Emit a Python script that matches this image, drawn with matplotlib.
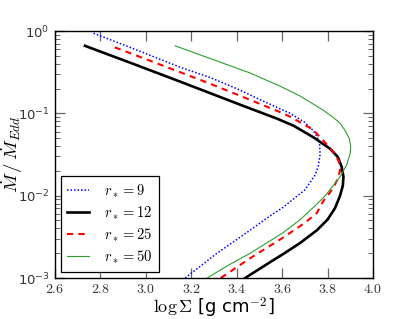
import matplotlib
matplotlib.use("Agg")
import matplotlib.pyplot as plt
from matplotlib.ticker import FuncFormatter, LogLocator, FixedLocator
import numpy as np

plt.rcParams['mathtext.fontset'] = 'cm'
plt.rcParams['font.family'] = ['DejaVu Sans']

# r* = 9
sig_9 = [3.173, 3.313, 3.459, 3.534, 3.605, 3.65, 3.70, 3.723, 3.745, 3.759, 3.767,
         3.765, 3.753, 3.737, 3.70, 3.635, 3.591, 3.50, 3.40, 3.283, 3.151, 2.95, 2.763]
mdot_9 = [10**v for v in [-3.0, -2.70, -2.42, -2.27, -2.14, -2.04, -1.93, -1.84, -1.75, -1.64, -1.50,
                          -1.38, -1.28, -1.21, -1.11, -1.00, -0.945, -0.83, -0.70, -0.565, -0.44, -0.22, -0.02]]
# r* = 12
sig_12 = [3.437, 3.50, 3.56, 3.604, 3.679, 3.753, 3.80, 3.833, 3.855, 3.867, 3.870,
          3.862, 3.845, 3.811, 3.737, 3.65, 3.578, 3.415, 3.283, 3.151, 2.95, 2.732]
mdot_12 = [10**v for v in [-3.0, -2.89, -2.785, -2.71, -2.575, -2.42, -2.29, -2.15, -2.00, -1.88, -1.77,
                           -1.65, -1.53, -1.43, -1.29, -1.15, -1.065, -0.895, -0.755, -0.615, -0.405, -0.18]]
# r* = 25
sig_25 = [3.33, 3.459, 3.604, 3.70, 3.753, 3.78, 3.811, 3.83, 3.847, 3.855, 3.85,
          3.835, 3.811, 3.737, 3.635, 3.578, 3.40, 3.283, 3.151, 2.855]
mdot_25 = [10**v for v in [-3.0, -2.76, -2.51, -2.33, -2.21, -2.07, -1.96, -1.88, -1.78, -1.69, -1.59,
                           -1.50, -1.42, -1.20, -1.04, -0.97, -0.77, -0.64, -0.50, -0.19]]
# r* = 50
sig_50 = [3.27, 3.36, 3.459, 3.604, 3.68, 3.75, 3.79, 3.83, 3.86, 3.885, 3.90,
          3.902, 3.895, 3.875, 3.855, 3.825, 3.78, 3.679, 3.591, 3.459, 3.239, 3.129]
mdot_50 = [10**v for v in [-3.0, -2.85, -2.70, -2.45, -2.29, -2.11, -2.00, -1.86, -1.75, -1.62, -1.48,
                           -1.40, -1.30, -1.20, -1.12, -1.05, -0.96, -0.79, -0.67, -0.51, -0.29, -0.18]]

labels = [r"$r_* = 9$", r"$r_* = 12$", r"$r_* = 25$", r"$r_* = 50$"]
xticks = [2.6, 2.8, 3.0, 3.2, 3.4, 3.6, 3.8, 4.0]

fig = plt.figure(figsize=(4.15, 3.19), dpi=100)
ax = fig.add_axes([55/415, 41/319, 318/415, 247/319])

ax.plot(sig_9, mdot_9, color='blue', ls=(0, (1, 1.3)), lw=1.1, label=labels[0])
ax.plot(sig_12, mdot_12, color='black', ls='-', lw=1.9, label=labels[1])
ax.plot(sig_25, mdot_25, color='red', ls=(0, (3, 2.5)), lw=1.5, label=labels[2])
ax.plot(sig_50, mdot_50, color='#2ca02c', ls='-', lw=0.8, label=labels[3])

ax.set_yscale('log')
ax.set_xlim(2.6, 4.0)
ax.set_ylim(1e-3, 1.0)
ax.xaxis.set_major_locator(FixedLocator(xticks))
ax.xaxis.set_major_formatter(FuncFormatter(lambda v, p: f"${v:.1f}$"))
ax.yaxis.set_major_locator(LogLocator(base=10, numticks=10))
ax.yaxis.set_minor_locator(LogLocator(base=10, subs=np.arange(2, 10), numticks=10))

ax.tick_params(which='both', direction='in', top=True, right=True, colors='#666666',
               labelcolor='#333333', labelsize=10)
ax.tick_params(which='major', length=7, width=0.9, pad=3)
ax.tick_params(which='minor', length=3.5, width=0.7)
ax.tick_params(axis='y', which='major', labelsize=9.5, pad=4)
for s in ax.spines.values():
    s.set_color('black')
    s.set_linewidth(1.0)

ax.set_xlabel(r"$\log\Sigma$ [g cm$^{-2}$]", fontsize=13, va='center')
ax.xaxis.set_label_coords(0.5, -0.12)
ax.set_ylabel(r"$\dot{M}\,/\,\dot{M}_{Edd}$", fontsize=13.5, va='center')
ax.yaxis.set_label_coords(-0.135, 0.5)

leg = ax.legend(loc='lower left', fontsize=10.5, frameon=True, fancybox=False,
                edgecolor='black', framealpha=1, handlelength=1.5, labelspacing=0.3,
                borderaxespad=0.4, handletextpad=1.0, borderpad=0.45)
leg.get_frame().set_linewidth(0.9)

fig.savefig("out.png", dpi=100)
